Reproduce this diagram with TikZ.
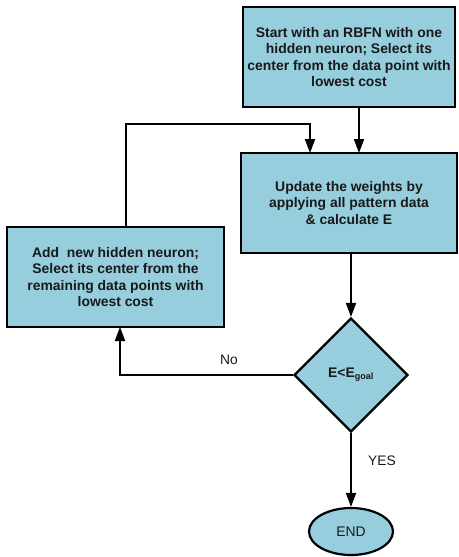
\documentclass[tikz,border=0pt]{standalone}
\usepackage{fontspec}
\setmainfont{Liberation Sans}
\usetikzlibrary{shapes.geometric,arrows.meta}
\definecolor{boxfill}{RGB}{150,206,221}
\definecolor{txt}{RGB}{25,25,25}
\begin{document}
\begin{tikzpicture}[x=1pt,y=-1pt,
  proc/.style={draw=black,line width=2.4pt,fill=boxfill,inner sep=0pt,align=center,
    font=\bfseries\fontsize{13.9}{16.5}\selectfont,text=txt},
  conn/.style={line width=2pt,-{Triangle[length=14pt,width=10pt]}},
  lbl/.style={font=\fontsize{13.8}{16}\selectfont,text=txt}]
\useasboundingbox (0,0) rectangle (458,557);
\node[proc,minimum width=212pt,minimum height=100pt] (start) at (349,57)
  {Start with an RBFN with one\\hidden neuron; Select its\\center from the data point with\\lowest cost};
\node[proc,minimum width=216pt,minimum height=100pt] (upd) at (349,203)
  {Update the weights by\\applying all pattern data\\\& calculate E};
\node[proc,minimum width=217pt,minimum height=100pt] (add) at (115.5,277)
  {Add\ \ new hidden neuron;\\Select its center from the\\remaining data points with\\lowest cost};
\node[proc,diamond,aspect=1,minimum width=114pt,minimum height=114pt,line width=2.2pt] (dec) at (351,375)
  {E<E\textsubscript{\fontsize{9}{10}\selectfont goal}};
\node[proc,ellipse,minimum width=84pt,minimum height=47pt,font=\fontsize{13.9}{16}\selectfont,line width=2.2pt] (end) at (351,531.5) {END};
\coordinate (addtop) at (126,227);
\coordinate (c1) at (126,124);
\coordinate (c2) at (310,124);
\coordinate (c3) at (310,153);
\coordinate (n1) at (120,375);
\coordinate (n2) at (120,327);
\draw[conn] (start.south -| 359,0) -- (359,153);
\draw[conn] (addtop) -- (c1) -- (c2) -- (c3);
\draw[conn] (upd.south -| dec.north) -- (dec.north);
\draw[conn] (dec.west) -- (n1) -- (n2);
\draw[conn] (dec.south) -- (end.north);
\node[lbl] (no) at (229,360) {No};
\node[lbl] (yes) at (382,461) {YES};
\end{tikzpicture}
\end{document}
